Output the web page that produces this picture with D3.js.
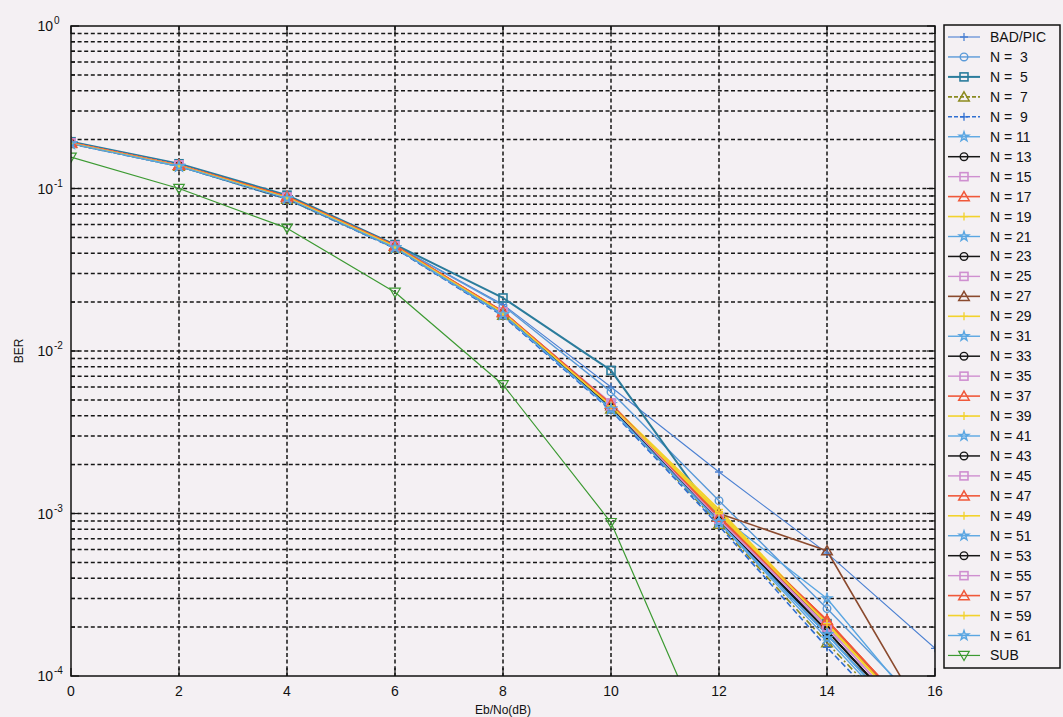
<!DOCTYPE html>
<html>
<head>
<meta charset="utf-8">
<script src="https://cdn.jsdelivr.net/npm/d3@7/dist/d3.min.js"></script>
<style>
  html, body { margin: 0; padding: 0; background: #f4f0f3; }
  svg { display: block; }
  text { font-family: "Liberation Sans", Arial, sans-serif; fill: #111; }
</style>
</head>
<body>
<svg id="chart" width="1063" height="717"></svg>
<script>
// ---------------- data ----------------
const ebno = [0, 2, 4, 6, 8, 10, 12, 14, 16];
const xTicks = [0, 2, 4, 6, 8, 10, 12, 14, 16];
const yDecades = [0, -1, -2, -3, -4];

const seriesNames = ["BAD/PIC", "N =  3", "N =  5", "N =  7", "N =  9", "N = 11", "N = 13", "N = 15",
  "N = 17", "N = 19", "N = 21", "N = 23", "N = 25", "N = 27", "N = 29", "N = 31", "N = 33",
  "N = 35", "N = 37", "N = 39", "N = 41", "N = 43", "N = 45", "N = 47", "N = 49", "N = 51",
  "N = 53", "N = 55", "N = 57", "N = 59", "N = 61", "SUB"];

const berBAD = [0.192, 0.141, 0.090, 0.0447, 0.0193, 0.0060, 0.00180, 0.00057, 0.000148];
const berN3  = [0.193, 0.141, 0.090, 0.0446, 0.0190, 0.0056, 0.00120, 0.00026, 0.000054];
const berN5  = [0.194, 0.142, 0.091, 0.0452, 0.0212, 0.0076, 0.00090, 0.00021, 0.000042];
const berN7  = [0.189, 0.137, 0.086, 0.0430, 0.0166, 0.0044, 0.00086, 0.00016, 0.000032];
const berN9  = [0.188, 0.137, 0.086, 0.0428, 0.0164, 0.0043, 0.00084, 0.00015, 0.000030];
const berN11 = [0.190, 0.138, 0.087, 0.0434, 0.0170, 0.0047, 0.00098, 0.00030, 0.000048];
const berN13 = [0.190, 0.138, 0.087, 0.0436, 0.0170, 0.0045, 0.00090, 0.00018, 0.000035];
const berN15 = [0.191, 0.139, 0.088, 0.0440, 0.0174, 0.0048, 0.00094, 0.00020, 0.000038];
const berN17 = [0.191, 0.139, 0.089, 0.0445, 0.0175, 0.0047, 0.00096, 0.00022, 0.000042];
const berN19 = [0.190, 0.138, 0.088, 0.0440, 0.0173, 0.0047, 0.00106, 0.00021, 0.000040];
const berN21 = [0.189, 0.137, 0.086, 0.0432, 0.0167, 0.0044, 0.00088, 0.00017, 0.000033];
const berN23 = [0.190, 0.138, 0.087, 0.0437, 0.0171, 0.0045, 0.00091, 0.00019, 0.000036];
const berN25 = [0.191, 0.139, 0.088, 0.0441, 0.0173, 0.0047, 0.00093, 0.00020, 0.000038];
const berN27 = [0.191, 0.139, 0.088, 0.0442, 0.0172, 0.0046, 0.00100, 0.00059, 0.000043];
const berN29 = [0.190, 0.138, 0.088, 0.0439, 0.0172, 0.0046, 0.00103, 0.00021, 0.000040];
const berN31 = [0.189, 0.137, 0.087, 0.0433, 0.0168, 0.0044, 0.00089, 0.00018, 0.000034];
const berN33 = [0.190, 0.138, 0.087, 0.0436, 0.0170, 0.0045, 0.00091, 0.00019, 0.000036];
const berN35 = [0.191, 0.139, 0.088, 0.0440, 0.0173, 0.0047, 0.00093, 0.00020, 0.000038];
const berN37 = [0.191, 0.139, 0.089, 0.0444, 0.0174, 0.0047, 0.00095, 0.00021, 0.000041];
const berN39 = [0.190, 0.138, 0.088, 0.0439, 0.0172, 0.0046, 0.00101, 0.00021, 0.000040];
const berN41 = [0.189, 0.137, 0.087, 0.0433, 0.0168, 0.0044, 0.00089, 0.00018, 0.000034];
const berN43 = [0.190, 0.138, 0.087, 0.0436, 0.0170, 0.0045, 0.00090, 0.00019, 0.000036];
const berN45 = [0.191, 0.139, 0.088, 0.0440, 0.0173, 0.0046, 0.00092, 0.00020, 0.000038];
const berN47 = [0.191, 0.139, 0.089, 0.0444, 0.0174, 0.0047, 0.00095, 0.00022, 0.000042];
const berN49 = [0.190, 0.138, 0.088, 0.0439, 0.0172, 0.0046, 0.00100, 0.00021, 0.000040];
const berN51 = [0.189, 0.137, 0.087, 0.0433, 0.0168, 0.0044, 0.00089, 0.00018, 0.000034];
const berN53 = [0.190, 0.138, 0.087, 0.0436, 0.0170, 0.0045, 0.00090, 0.00019, 0.000036];
const berN55 = [0.191, 0.139, 0.088, 0.0440, 0.0173, 0.0046, 0.00092, 0.00020, 0.000038];
const berN57 = [0.191, 0.139, 0.089, 0.0444, 0.0174, 0.0047, 0.00095, 0.00022, 0.000042];
const berN59 = [0.190, 0.138, 0.088, 0.0439, 0.0172, 0.0046, 0.00100, 0.00021, 0.000040];
const berN61 = [0.189, 0.137, 0.087, 0.0433, 0.0168, 0.0044, 0.00089, 0.00018, 0.000034];
const berSUB = [0.156, 0.100, 0.057, 0.0230, 0.0062, 0.00088, 0.000026, null, null];

const seriesValues = [berBAD, berN3, berN5, berN7, berN9, berN11, berN13, berN15, berN17, berN19,
  berN21, berN23, berN25, berN27, berN29, berN31, berN33, berN35, berN37, berN39, berN41, berN43,
  berN45, berN47, berN49, berN51, berN53, berN55, berN57, berN59, berN61, berSUB];

// ---------------- styles ----------------
const C_LB = "#5aa6e2", C_BK = "#161616", C_PK = "#cf8fd0", C_RD = "#f0583a", C_YL = "#f2d22c";
const seriesColors = ["#4b80d2", "#5a9ad8", "#2b7c9c", "#8c8a1e", "#2f6fd2", C_LB,
  C_BK, C_PK, C_RD, C_YL, C_LB, C_BK, C_PK, "#8b4a2e", C_YL, C_LB,
  C_BK, C_PK, C_RD, C_YL, C_LB, C_BK, C_PK, C_RD, C_YL, C_LB,
  C_BK, C_PK, C_RD, C_YL, C_LB, "#3c9a32"];
const seriesMarkers = ["plus", "circle", "square", "triangle", "plus", "star",
  "circle", "square", "triangle", "plus", "star", "circle", "square", "triangle", "plus", "star",
  "circle", "square", "triangle", "plus", "star", "circle", "square", "triangle", "plus", "star",
  "circle", "square", "triangle", "plus", "star", "tridown"];
const seriesDash = ["", "", "", "7,3,2,3", "6,3", "", "", "", "", "", "", "", "", "", "", "",
  "", "", "", "", "", "", "", "", "", "", "", "", "", "", "", ""];
const seriesWidth = [1.1, 1.4, 2.0, 1.6, 1.6, 1.4, 1.5, 1.4, 1.6, 1.6, 1.4, 1.5, 1.4, 1.6, 1.6, 1.4,
  1.5, 1.4, 1.6, 1.6, 1.4, 1.5, 1.4, 1.6, 1.6, 1.4, 1.5, 1.4, 1.6, 1.6, 1.4, 1.2];

// ---------------- layout ----------------
const svg = d3.select("#chart");
const L = 71, R = 935, T = 26, B = 676;
const x = d3.scaleLinear().domain([0, 16]).range([L, R]);
const y = d3.scaleLog().domain([1e-4, 1]).range([B, T]);

svg.append("rect").attr("width", 1063).attr("height", 717).attr("fill", "#f4f0f3");

svg.append("defs").append("clipPath").attr("id", "plotclip")
  .append("rect").attr("x", L).attr("y", T).attr("width", R - L).attr("height", B - T);

const grid = svg.append("g");
const yGridVals = [];
for (let e = -4; e < 0; e++) {
  for (let m = 1; m <= 9; m++) {
    const v = m * Math.pow(10, e);
    if (v > 1e-4 && v < 1) yGridVals.push(v);
  }
}
grid.selectAll("line.hg").data(yGridVals).join("line")
  .attr("x1", L).attr("x2", R)
  .attr("y1", d => y(d)).attr("y2", d => y(d))
  .attr("stroke", "#151515").attr("stroke-width", 1.5).attr("stroke-dasharray", "4,2.6");
grid.selectAll("line.vg").data(xTicks.filter(d => d > 0 && d < 16)).join("line")
  .attr("x1", d => x(d)).attr("x2", d => x(d))
  .attr("y1", T).attr("y2", B)
  .attr("stroke", "#151515").attr("stroke-width", 1.5).attr("stroke-dasharray", "4,2.6");

// ticks
const tk = svg.append("g").attr("stroke", "#111").attr("stroke-width", 1.2);
xTicks.forEach(d => {
  tk.append("line").attr("x1", x(d)).attr("x2", x(d)).attr("y1", B).attr("y2", B - 8);
  tk.append("line").attr("x1", x(d)).attr("x2", x(d)).attr("y1", T).attr("y2", T + 8);
});
yGridVals.concat([1, 1e-4]).forEach(v => {
  const major = Math.abs(Math.log10(v) - Math.round(Math.log10(v))) < 1e-9;
  const len = major ? 8 : 4;
  tk.append("line").attr("x1", L).attr("x2", L + len).attr("y1", y(v)).attr("y2", y(v));
  tk.append("line").attr("x1", R).attr("x2", R - len).attr("y1", y(v)).attr("y2", y(v));
});

// tick labels
svg.selectAll("text.xt").data(xTicks).join("text")
  .attr("x", d => x(d)).attr("y", 696).attr("text-anchor", "middle")
  .attr("font-size", 14).text(d => d);

yDecades.forEach(e => {
  svg.append("text").attr("x", 53).attr("y", y(Math.pow(10, e)) + 5)
    .attr("text-anchor", "end").attr("font-size", 14).text("10");
  svg.append("text").attr("x", 54).attr("y", y(Math.pow(10, e)) - 2)
    .attr("font-size", 10).text(String(e));
});

// axis labels
svg.append("text").attr("x", (L + R) / 2).attr("y", 714).attr("text-anchor", "middle")
  .attr("font-size", 12).text("Eb/No(dB)");
svg.append("text").attr("transform", `translate(23,${(T + B) / 2}) rotate(-90)`)
  .attr("text-anchor", "middle").attr("font-size", 12).text("BER");

// markers
function drawMarker(g, type, cx, cy, color) {
  if (type === "circle") {
    g.append("circle").attr("cx", cx).attr("cy", cy).attr("r", 3.8)
      .attr("fill", "none").attr("stroke", color).attr("stroke-width", 1.4);
  } else if (type === "square") {
    const h = 4;
    g.append("rect").attr("x", cx - h).attr("y", cy - h).attr("width", 2 * h).attr("height", 2 * h)
      .attr("fill", "none").attr("stroke", color).attr("stroke-width", 1.6);
  } else if (type === "triangle") {
    g.append("path").attr("transform", `translate(${cx},${cy + 1})`)
      .attr("d", d3.symbol().type(d3.symbolTriangle).size(48)())
      .attr("fill", "none").attr("stroke", color).attr("stroke-width", 1.5);
  } else if (type === "tridown") {
    g.append("path").attr("transform", `translate(${cx},${cy - 1}) rotate(180)`)
      .attr("d", d3.symbol().type(d3.symbolTriangle).size(48)())
      .attr("fill", "none").attr("stroke", color).attr("stroke-width", 1.2);
  } else if (type === "star") {
    g.append("path").attr("transform", `translate(${cx},${cy})`)
      .attr("d", d3.symbol().type(d3.symbolStar).size(28)())
      .attr("fill", "none").attr("stroke", color).attr("stroke-width", 1.4);
  } else if (type === "plus") {
    const h = 4;
    g.append("path").attr("d", `M${cx - h},${cy}H${cx + h}M${cx},${cy - h}V${cy + h}`)
      .attr("fill", "none").attr("stroke", color).attr("stroke-width", 1.3);
  }
}

// series
const plot = svg.append("g").attr("clip-path", "url(#plotclip)");
const line = d3.line()
  .defined(d => d[1] != null)
  .x(d => x(d[0])).y(d => y(d[1]));

seriesValues.forEach((vals, i) => {
  const pts = ebno.map((e, k) => [e, vals[k]]);
  plot.append("path").datum(pts).attr("d", line)
    .attr("fill", "none").attr("stroke", seriesColors[i])
    .attr("stroke-width", seriesWidth[i])
    .attr("stroke-dasharray", seriesDash[i] || null)
    .attr("stroke-linejoin", "round");
});
seriesValues.forEach((vals, i) => {
  const mg = plot.append("g");
  ebno.forEach((e, k) => {
    const v = vals[k];
    if (v == null) return;
    const py = y(v);
    if (py > B + 6 || py < T - 6) return;
    drawMarker(mg, seriesMarkers[i], x(e), py, seriesColors[i]);
  });
});

// border
svg.append("rect").attr("x", L).attr("y", T).attr("width", R - L).attr("height", B - T)
  .attr("fill", "none").attr("stroke", "#111").attr("stroke-width", 1.5);

// legend
const lgX = 944, lgY = 25, lgW = 116, lgH = 643;
svg.append("rect").attr("x", lgX).attr("y", lgY).attr("width", lgW).attr("height", lgH)
  .attr("fill", "#f4f0f3").attr("stroke", "#111").attr("stroke-width", 1.5);
const lg = svg.append("g");
seriesNames.forEach((name, i) => {
  const cy = 37 + i * 19.95;
  lg.append("line").attr("x1", 948).attr("x2", 980).attr("y1", cy).attr("y2", cy)
    .attr("stroke", seriesColors[i]).attr("stroke-width", seriesWidth[i])
    .attr("stroke-dasharray", seriesDash[i] ? "4,2" : null);
  drawMarker(lg, seriesMarkers[i], 964, cy, seriesColors[i]);
  lg.append("text").attr("x", 990).attr("y", cy + 5).attr("font-size", 14)
    .style("white-space", "pre").attr("xml:space", "preserve").text(name);
});
</script>
</body>
</html>
